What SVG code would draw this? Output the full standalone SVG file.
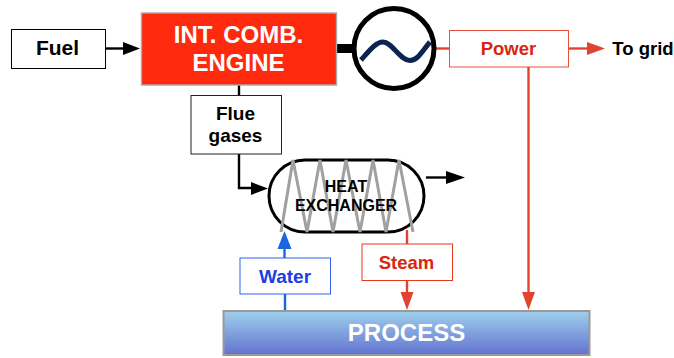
<svg xmlns="http://www.w3.org/2000/svg" width="674" height="358" viewBox="0 0 674 358">
<style>
text{font-family:"Liberation Sans",Arial,sans-serif;font-weight:bold;text-anchor:middle}
.box{fill:#fff}
.k{fill:none;stroke:#000;stroke-width:2.4}
.r{fill:none;stroke:#e2432f;stroke-width:2.4}
.b{fill:none;stroke:#1a66e0;stroke-width:2.4}
.ka{fill:#000}.ra{fill:#e2432f}.ba{fill:#1a66e0}
</style>
<defs>
<linearGradient id="pg" x1="0" y1="0" x2="0" y2="1"><stop offset="0" stop-color="#9fd0ec"/><stop offset="1" stop-color="#6272cf"/></linearGradient>
</defs>
<g id="connectors">
<path class="k" d="M105 48.500H125"/><polygon class="ka" points="123,42 140,48.500 123,55"/>
<path class="k" d="M239 85V96"/>
<path class="k" d="M239 154V188H256"/><polygon class="ka" points="251,182 268,188.500 251,195"/>
<path class="k" d="M426 177.500H446"/><polygon class="ka" points="446,171 465,177.500 446,184"/>
<path d="M337 48.500H355" fill="none" stroke="#000" stroke-width="9"/>
<path class="r" d="M433 48.500H450"/>
<path class="r" d="M568 48.500H588"/><polygon class="ra" points="587,42 605,48.500 587,55"/>
<path class="r" d="M528.500 67V297"/><polygon class="ra" points="522,292 535,292 528.500,310"/>
<path class="r" d="M407 230V244"/>
<path class="r" d="M407 280V296"/><polygon class="ra" points="400.500,292 413.500,292 407,310"/>
<path class="b" d="M284.500 258V246"/><polygon class="ba" points="277.500,249 291.500,249 284.500,231"/>
<path class="b" d="M285 294V310"/>
</g>
<g id="fuel"><rect class="box" x="11.500" y="29.500" width="94" height="39" stroke="#000" stroke-width="1"/><text x="57.500" y="55" font-size="21">Fuel</text></g>
<g id="engine"><rect x="141.500" y="13" width="195" height="72" fill="#ff2a0d" stroke="#aaa" stroke-width="1.400"/><text x="238.500" y="43" font-size="24" fill="#fff">INT. COMB.</text><text x="238.500" y="71" font-size="24" fill="#fff">ENGINE</text></g>
<g id="flue"><rect class="box" x="191" y="95.500" width="90.500" height="58.500" stroke="#222" stroke-width="1"/><text x="235.500" y="120" font-size="19">Flue</text><text x="235.500" y="142" font-size="19">gases</text></g>
<g id="generator"><circle cx="394" cy="48.500" r="40" fill="#fff" stroke="#000" stroke-width="5"/><path d="M361 60C370 50 376 42 383 42C392 42 400 60.500 410 60.500C418 60.500 423 50 430 42" fill="none" stroke="#0c2550" stroke-width="5"/></g>
<g id="power"><rect class="box" x="449.500" y="30.500" width="119" height="36.500" stroke="#e8503c" stroke-width="1"/><text x="508.500" y="55" font-size="18.500" fill="#d9260c">Power</text></g>
<g id="togrid"><text x="643" y="55" font-size="18.500">To grid</text></g>
<g id="exchanger"><rect x="269" y="160" width="155" height="72" rx="36" ry="36" fill="#fff" stroke="#000" stroke-width="3"/>
<path d="M281 232L293 160L307 232L320 160L333 232L346 160L360 232L373 160L386 232L399 160L413 232" fill="none" stroke="#a0a0a0" stroke-width="3"/>
<text x="346" y="192" font-size="16">HEAT</text><text x="346" y="211" font-size="16">EXCHANGER</text></g>
<g id="water"><rect class="box" x="240" y="258" width="90.500" height="36" stroke="#2d62ee" stroke-width="1"/><text x="285" y="283" font-size="19" fill="#1c3ede">Water</text></g>
<g id="steam"><rect class="box" x="362" y="244" width="90.500" height="36.500" stroke="#e8391f" stroke-width="1"/><text x="406.500" y="269" font-size="18.500" fill="#d9260c">Steam</text></g>
<g id="process"><rect x="223.500" y="311" width="366" height="44" fill="url(#pg)" stroke="#999" stroke-width="2"/><text x="406.500" y="341" font-size="24" fill="#fff">PROCESS</text></g>
</svg>
